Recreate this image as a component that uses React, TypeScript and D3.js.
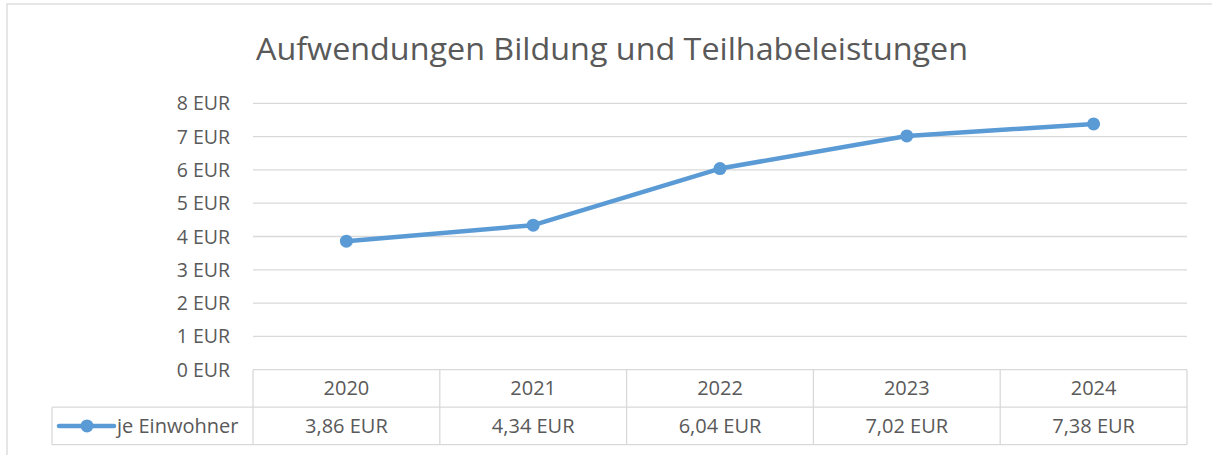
import { useEffect, useRef } from "react";
import * as d3 from "d3";

// chart data
const years = ["2020", "2021", "2022", "2023", "2024"];
const perResident = [3.86, 4.34, 6.04, 7.02, 7.38];
const yTicks = [0, 1, 2, 3, 4, 5, 6, 7, 8];
const seriesName = "je Einwohner";
const title = "Aufwendungen Bildung und Teilhabeleistungen";

const fmtEUR = (v: number) => v.toFixed(2).replace(".", ",") + " EUR";

export default function App() {
  const ref = useRef<SVGSVGElement>(null);

  useEffect(() => {
    if (!ref.current) return;
    const svg = d3.select(ref.current);
    svg.selectAll("*").remove();

    const width = 1212;
    const height = 455;
    const plot = { left: 253, right: 1187, top: 103.3, bottom: 369.7 };
    const rowH = 37.5;
    const legendLeft = 52;
    const font = "'Open Sans', 'Noto Sans', sans-serif";
    const textColor = "#595959";
    const gridColor = "#d9d9d9";
    const blue = "#5b9bd5";

    // outer chart border
    svg.append("rect")
      .attr("x", 7).attr("y", 4)
      .attr("width", width + 20).attr("height", height + 20)
      .attr("fill", "white").attr("stroke", gridColor).attr("stroke-width", 1.3);

    const x = d3.scaleBand().domain(years).range([plot.left, plot.right]);
    const y = d3.scaleLinear().domain([0, 8]).range([plot.bottom, plot.top]);

    // title
    svg.append("text")
      .attr("x", 612)
      .attr("y", 60)
      .attr("text-anchor", "middle")
      .attr("font-family", font)
      .attr("font-size", 31)
      .attr("fill", textColor)
      .attr("textLength", 712)
      .attr("lengthAdjust", "spacingAndGlyphs")
      .text(title);

    // gridlines
    svg.append("g")
      .selectAll("line")
      .data(yTicks.filter(t => t > 0))
      .join("line")
        .attr("x1", plot.left).attr("x2", plot.right)
        .attr("y1", d => y(d)).attr("y2", d => y(d))
        .attr("stroke", gridColor).attr("stroke-width", 1.3);

    // y-axis labels
    svg.append("g")
      .selectAll("text")
      .data(yTicks)
      .join("text")
        .attr("x", 230)
        .attr("y", d => y(d) + 7)
        .attr("text-anchor", "end")
        .attr("font-family", font)
        .attr("font-size", 19.5)
        .attr("fill", textColor)
        .text(d => `${d} EUR`);

    // data table
    const table = svg.append("g").attr("stroke", gridColor).attr("stroke-width", 1.3).attr("fill", "none");
    const r0 = plot.bottom;
    const r1 = r0 + rowH;
    const r2 = r1 + rowH;
    table.append("line").attr("x1", plot.left).attr("x2", plot.right).attr("y1", r0).attr("y2", r0);
    table.append("line").attr("x1", legendLeft).attr("x2", plot.right).attr("y1", r1).attr("y2", r1);
    table.append("line").attr("x1", legendLeft).attr("x2", plot.right).attr("y1", r2).attr("y2", r2);
    table.append("line").attr("x1", legendLeft).attr("x2", legendLeft).attr("y1", r1).attr("y2", r2);
    table.selectAll("line.col")
      .data([...years.map(d => x(d)!), plot.right])
      .join("line")
        .attr("class", "col")
        .attr("x1", d => d).attr("x2", d => d)
        .attr("y1", r0).attr("y2", r2);

    const cells = svg.append("g")
      .attr("font-family", font).attr("font-size", 20).attr("fill", textColor)
      .attr("text-anchor", "middle");
    cells.selectAll("text.year")
      .data(years)
      .join("text")
        .attr("class", "year")
        .attr("x", d => x(d)! + x.bandwidth() / 2)
        .attr("y", r0 + rowH / 2 + 7)
        .text(d => d);
    cells.selectAll("text.val")
      .data(perResident)
      .join("text")
        .attr("class", "val")
        .attr("x", (_, i) => x(years[i])! + x.bandwidth() / 2)
        .attr("y", r1 + rowH / 2 + 7)
        .text(d => fmtEUR(d));

    // legend key in the table
    const ky = r1 + rowH / 2;
    svg.append("line")
      .attr("x1", 59).attr("x2", 114).attr("y1", ky).attr("y2", ky)
      .attr("stroke", blue).attr("stroke-width", 4.5).attr("stroke-linecap", "round");
    svg.append("circle").attr("cx", 87).attr("cy", ky).attr("r", 6.5).attr("fill", blue);
    svg.append("text")
      .attr("x", 117).attr("y", ky + 7)
      .attr("font-family", font).attr("font-size", 20).attr("fill", textColor)
      .text(seriesName);

    // series line
    const line = d3.line<number>()
      .x((_, i) => x(years[i])! + x.bandwidth() / 2)
      .y(d => y(d));
    svg.append("path")
      .datum(perResident)
      .attr("d", line)
      .attr("fill", "none")
      .attr("stroke", blue)
      .attr("stroke-width", 4.5)
      .attr("stroke-linejoin", "round")
      .attr("stroke-linecap", "round");
    svg.append("g")
      .selectAll("circle")
      .data(perResident)
      .join("circle")
        .attr("cx", (_, i) => x(years[i])! + x.bandwidth() / 2)
        .attr("cy", d => y(d))
        .attr("r", 6.5)
        .attr("fill", blue);
  }, []);

  return (
    <svg
      ref={ref}
      width={1212}
      height={455}
      style={{ position: "absolute", left: 0, top: 0, background: "white" }}
    />
  );
}
